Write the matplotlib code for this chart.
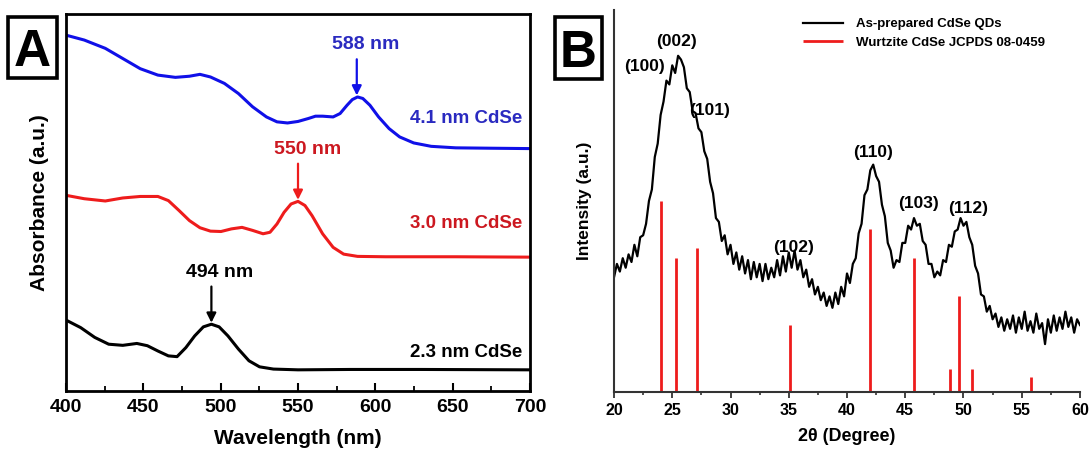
# UV-vis absorption (A) and XRD pattern (B) of CdSe quantum dots
import numpy as np
import matplotlib.pyplot as plt
from matplotlib.patches import Rectangle
from matplotlib.ticker import MultipleLocator

plt.rcParams["font.family"] = ["Liberation Sans", "DejaVu Sans"]
plt.rcParams["font.weight"] = "bold"

# ---------------- Panel A data (absorbance, arbitrary units) ----------------
WL_41 = [400, 411.8, 425.4, 436.7, 448, 459.4, 470.7, 479.8, 486.6, 493.4, 502.4,
         511.5, 520.6, 529.6, 536.4, 543.2, 550, 556.8, 561.3, 565.9, 572.7, 577.2,
         581.7, 585.1, 588.5, 591.9, 596.5, 602.1, 608.9, 615.7, 624.8, 636.1, 652,
         674.6, 700]
ABS_41 = [94.4, 93.1, 90.9, 88.2, 85.5, 83.8, 83.2, 83.5, 84.0, 83.3, 81.6,
          78.9, 75.4, 72.7, 71.4, 71.1, 71.5, 72.3, 72.9, 72.9, 72.7, 73.6,
          75.8, 77.3, 78.0, 77.6, 75.8, 72.7, 69.6, 67.4, 65.8, 64.9, 64.5,
          64.4, 64.3]

WL_30 = [400, 411.8, 425.4, 436.7, 448, 459.4, 466.2, 473, 479.8, 486.6, 493.4,
         500.2, 507, 513.8, 520.6, 527.4, 531.9, 536.4, 541, 545.5, 550, 554.5,
         559.1, 565.9, 572.7, 579.5, 588.5, 606.6, 652, 700]
ABS_30 = [51.9, 51.0, 50.4, 51.2, 51.6, 51.6, 50.5, 47.9, 45.2, 43.3, 42.4,
          42.3, 43.0, 43.4, 42.6, 41.7, 42.1, 44.3, 47.4, 49.6, 50.3, 49.2,
          46.5, 41.7, 38.1, 36.3, 35.7, 35.6, 35.6, 35.5]

WL_23 = [400, 409.5, 418.6, 427.6, 436.7, 445.8, 452.6, 459.4, 466.2, 471.8,
         477.5, 483.2, 488.8, 494, 499, 504.7, 511.5, 518.3, 525.1, 534.1, 550,
         584, 629.3, 700]
ABS_23 = [18.8, 16.8, 14.2, 12.4, 12.1, 12.6, 12.0, 10.6, 9.3, 9.1,
          11.5, 14.6, 17.0, 17.7, 17.0, 14.6, 11.1, 8.0, 6.4, 5.8, 5.6,
          5.7, 5.7, 5.6]

PEAK_WL = [588, 550, 494]
PEAK_ABS = [78.0, 50.3, 17.7]
SIZE_LABELS = ["4.1 nm CdSe", "3.0 nm CdSe", "2.3 nm CdSe"]
SIZE_LABEL_Y = [72.3, 44.3, 10.2]

# ---------------- Panel B data (intensity, arbitrary units) ----------------
TWO_THETA = np.arange(20, 60.001, 0.25)
INTENSITY = [
    30.0, 33.5, 31.5, 35.0, 32.5, 36.0, 34.0, 38.5, 35.5, 40.5,   # 20.00-22.25
    41.0, 44.0, 50.0, 53.0, 61.5, 65.0, 72.5, 76.0, 81.5, 80.5,   # 22.50-24.75
    85.5, 83.5, 88.0, 87.0, 85.0, 79.5, 78.5, 73.5, 73.0, 69.0,   # 25.00-27.25
    68.0, 63.0, 61.0, 55.0, 52.0, 45.5, 44.5, 39.5, 41.0, 36.0,   # 27.50-29.75
    38.5, 33.5, 36.5, 32.0, 35.5, 31.0, 34.5, 29.5, 34.0, 30.0,   # 30.00-32.25
    33.5, 29.0, 33.5, 29.5, 32.5, 30.0, 34.5, 30.5, 35.5, 31.5,   # 32.50-34.75
    36.5, 32.5, 37.0, 32.0, 34.5, 30.0, 32.0, 27.5, 29.5, 25.5,   # 35.00-37.25
    27.5, 24.0, 26.0, 22.5, 25.0, 22.0, 26.0, 23.0, 27.5, 25.0,   # 37.50-39.75
    31.0, 28.5, 33.5, 35.0, 41.5, 44.0, 51.5, 53.0, 58.0, 59.5,   # 40.00-42.25
    56.5, 55.0, 49.0, 46.0, 39.0, 37.0, 32.5, 34.5, 34.0, 39.0,   # 42.50-44.75
    39.0, 43.5, 42.5, 45.5, 43.5, 44.0, 39.5, 38.5, 33.5, 33.5,   # 45.00-47.25
    30.0, 31.5, 30.5, 34.5, 34.0, 38.5, 38.0, 42.0, 42.5, 45.5,   # 47.50-49.75
    43.5, 44.5, 40.5, 38.5, 33.0, 31.0, 25.5, 25.0, 21.0, 22.5,   # 50.00-52.25
    19.0, 20.5, 17.0, 19.5, 16.0, 19.0, 16.5, 20.0, 15.5, 19.5,   # 52.50-54.75
    16.5, 21.0, 16.0, 18.5, 15.5, 20.5, 16.5, 18.0, 12.5, 19.0,   # 55.00-57.25
    15.5, 20.0, 16.0, 19.5, 16.5, 21.0, 17.0, 19.5, 15.5, 19.0,   # 57.50-59.75
    17.5,                                                          # 60.00
]

# JCPDS 08-0459 reference lines
REF_2THETA = [24.0, 25.35, 27.1, 35.1, 41.95, 45.75, 48.8, 49.65, 50.7, 55.8]
REF_INT = [50.1, 35.0, 37.7, 17.5, 42.6, 35.0, 5.9, 25.0, 5.9, 3.9]

HKL_LABELS = ["(100)", "(002)", "(101)", "(102)", "(110)", "(103)", "(112)"]
HKL_X = [22.6, 25.4, 28.2, 35.4, 42.2, 46.1, 50.4]
HKL_Y = [85.2, 91.7, 73.7, 37.8, 62.8, 49.2, 47.9]

BLUE = "#1010e8"
RED = "#ee1c1c"
BLUE_TXT = "#2a2ac0"
RED_TXT = "#cc1820"


def panel_box(fig, x, y, w, h, letter):
    # boxed panel letter, position in figure pixels
    W, H = fig.get_size_inches() * fig.dpi
    fig.add_artist(Rectangle((x / W, 1 - (y + h) / H), w / W, h / H,
                             transform=fig.transFigure, fill=False,
                             linewidth=2.6, edgecolor="black"))
    fig.text((x + w / 2) / W, 1 - (y + h / 2) / H, letter, fontsize=37,
             fontweight="bold", ha="center", va="center_baseline")


def main():
    fig = plt.figure(figsize=(10.91, 4.53), dpi=100)

    # ---------------- Panel A ----------------
    ax = fig.add_axes([0.0605, 0.137, 0.4253, 0.832])
    curves = [(WL_41, ABS_41, BLUE, BLUE_TXT),
              (WL_30, ABS_30, RED, RED_TXT),
              (WL_23, ABS_23, "black", "black")]
    for i, (wl, ab, col, tcol) in enumerate(curves):
        ax.plot(wl, ab, color=col, linewidth=2.2)
        px, py = PEAK_WL[i], PEAK_ABS[i]
        ax.annotate("", xy=(px, py + 0.4), xytext=(px, py + 10.0),
                    arrowprops=dict(arrowstyle="-|>", color=col, lw=1.6,
                                    mutation_scale=14, shrinkA=0, shrinkB=0))
        ax.text(px + 6 if i < 2 else px + 5, py + 13.8, f"{px} nm", color=tcol,
                fontsize=14, fontweight="bold", ha="center", va="center")
        ax.text(695, SIZE_LABEL_Y[i], SIZE_LABELS[i], color=tcol,
                fontsize=13.5, fontweight="bold", ha="right", va="center")

    ax.set_xlim(400, 700)
    ax.set_ylim(0, 100)
    ax.set_yticks([])
    ax.xaxis.set_major_locator(MultipleLocator(50))
    ax.xaxis.set_minor_locator(MultipleLocator(25))
    ax.tick_params(axis="x", which="major", direction="in", length=6, width=1.5,
                   labelsize=14, pad=6)
    ax.tick_params(axis="x", which="minor", direction="in", length=3.5, width=1.3)
    for s in ax.spines.values():
        s.set_linewidth(2.0)
    ax.set_xlabel("Wavelength (nm)", fontsize=15, fontweight="bold", labelpad=9)
    ax.set_ylabel("Absorbance (a.u.)", fontsize=15, fontweight="bold", labelpad=12)

    # ---------------- Panel B ----------------
    bx = fig.add_axes([0.5628, 0.135, 0.4271, 0.843])
    bx.vlines(REF_2THETA, 0, REF_INT, color=RED, linewidth=2.0,
              label="Wurtzite CdSe JCPDS 08-0459")
    bx.plot(TWO_THETA, INTENSITY, color="black", linewidth=1.6,
            label="As-prepared CdSe QDs")
    for lab, x, y in zip(HKL_LABELS, HKL_X, HKL_Y):
        bx.text(x, y, lab, fontsize=12.5, fontweight="bold", ha="center", va="center")

    bx.set_xlim(20, 60)
    bx.set_ylim(0, 100)
    bx.set_yticks([])
    bx.xaxis.set_major_locator(MultipleLocator(5))
    bx.xaxis.set_minor_locator(MultipleLocator(2.5))
    bx.tick_params(axis="x", which="major", direction="out", length=4, width=1.3,
                   labelsize=11.5, pad=4, color="#333333")
    bx.tick_params(axis="x", which="minor", direction="out", length=2.5, width=1.2,
                   color="#333333")
    bx.spines["top"].set_visible(False)
    bx.spines["right"].set_visible(False)
    for s in ("left", "bottom"):
        bx.spines[s].set_linewidth(1.5)
        bx.spines[s].set_color("#333333")
    bx.set_xlabel("2θ (Degree)", fontsize=13, fontweight="bold", labelpad=7)
    bx.set_ylabel("Intensity (a.u.)", fontsize=12.5, fontweight="bold", labelpad=16)

    handles, labels = bx.get_legend_handles_labels()
    bx.legend(handles[::-1], labels[::-1], loc="upper left",
              bbox_to_anchor=(0.38, 1.01), frameon=False,
              prop=dict(size=9.5, weight="bold"), handlelength=3.0,
              handletextpad=1.0, labelspacing=0.5)

    panel_box(fig, 8, 17, 49, 61, "A")
    panel_box(fig, 555, 17, 47, 62, "B")

    fig.savefig("out.png", dpi=100)
    plt.close(fig)


if __name__ == "__main__":
    main()
